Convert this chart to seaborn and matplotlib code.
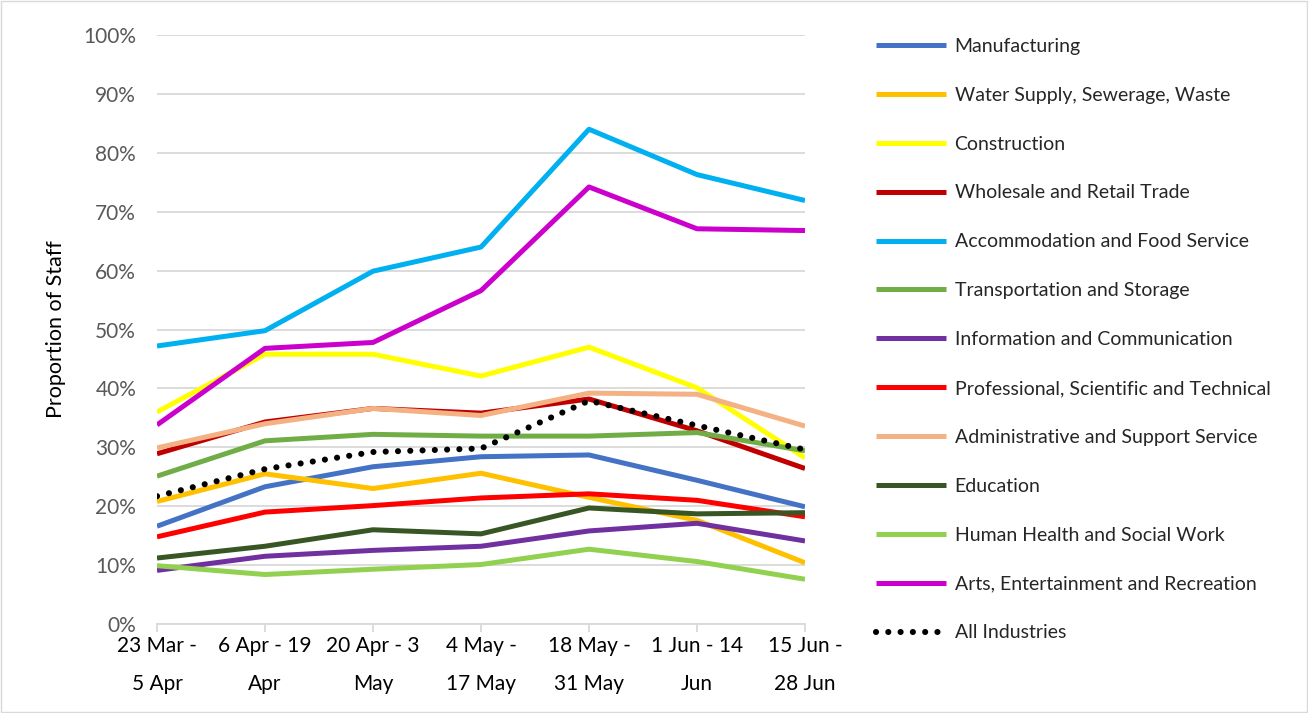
import matplotlib
matplotlib.use("Agg")
import matplotlib.pyplot as plt
import seaborn as sns
import pandas as pd
import numpy as np

periods = ["23 Mar -\n5 Apr", "6 Apr - 19\nApr", "20 Apr - 3\nMay", "4 May -\n17 May",
           "18 May -\n31 May", "1 Jun - 14\nJun", "15 Jun -\n28 Jun"]

manufacturing = [16.6, 23.3, 26.7, 28.4, 28.7, 24.4, 19.9]
water = [20.8, 25.5, 23.0, 25.6, 21.5, 17.6, 10.4]
construction = [36.0, 45.8, 45.8, 42.1, 47.0, 40.1, 28.2]
wholesale = [28.9, 34.3, 36.6, 35.8, 38.2, 32.8, 26.4]
accommodation = [47.2, 49.8, 59.9, 64.0, 84.0, 76.3, 71.9]
transport = [25.1, 31.1, 32.2, 31.9, 31.9, 32.5, 29.4]
information = [9.1, 11.5, 12.5, 13.2, 15.8, 17.1, 14.1]
professional = [14.8, 19.0, 20.1, 21.4, 22.1, 21.0, 18.2]
administrative = [29.9, 34.0, 36.6, 35.4, 39.2, 39.0, 33.6]
education = [11.2, 13.2, 16.0, 15.3, 19.7, 18.7, 18.9]
health = [9.9, 8.4, 9.3, 10.1, 12.7, 10.6, 7.6]
arts = [33.8, 46.8, 47.8, 56.6, 74.2, 67.1, 66.8]
all_industries = [21.7, 26.3, 29.2, 29.8, 37.9, 33.7, 29.6]

series_names = ["Manufacturing", "Water Supply, Sewerage, Waste", "Construction",
                "Wholesale and Retail Trade", "Accommodation and Food Service",
                "Transportation and Storage", "Information and Communication",
                "Professional, Scientific and Technical", "Administrative and Support Service",
                "Education", "Human Health and Social Work", "Arts, Entertainment and Recreation",
                "All Industries"]
series_values = [manufacturing, water, construction, wholesale, accommodation, transport,
                 information, professional, administrative, education, health, arts,
                 all_industries]
colors = ["#4472C4", "#FFC000", "#FFFF00", "#C00000", "#00B0F0", "#70AD47", "#7030A0",
          "#FF0000", "#F4B183", "#375623", "#92D050", "#CC00CC", "#000000"]

sns.set_theme(style="white")
plt.rcParams["font.family"] = ["Lato", "DejaVu Sans"]

fig = plt.figure(figsize=(13.08, 7.13), dpi=100)
ax = fig.add_axes([157/1308, 89/713, (805-157)/1308, (624-35)/713])

rows = []
for name, vals in zip(series_names, series_values):
    for i, v in enumerate(vals):
        rows.append({"series": name, "x": i, "value": v / 100.0})
df = pd.DataFrame(rows)

for name, col in zip(series_names, colors):
    sub = df[df["series"] == name]
    if name == "All Industries":
        sns.lineplot(data=sub, x="x", y="value", ax=ax, color=col, lw=4.4,
                     label=name, dashes=False)
        ln = ax.get_lines()[-1]
        ln.set_dashes([0.01, 2.0])
        ln.set_dash_capstyle("round")
    else:
        sns.lineplot(data=sub, x="x", y="value", ax=ax, color=col, lw=3.6,
                     label=name, solid_capstyle="butt")

ax.set_xlim(0, 6)
ax.set_ylim(0, 1.0)
ax.set_yticks(np.arange(0, 1.01, 0.1))
ax.set_yticklabels([f"{int(round(t*100))}%" for t in np.arange(0, 1.01, 0.1)],
                   color="#595959", fontsize=15)
ax.set_xticks(range(len(periods)))
ax.set_xticklabels(periods, fontsize=15, color="#000000", linespacing=2.1)
ax.grid(axis="y", color="#D9D9D9", lw=1.3)
ax.set_axisbelow(True)
for s in ["top", "right", "left"]:
    ax.spines[s].set_visible(False)
ax.spines["bottom"].set_color("#D9D9D9")
ax.spines["bottom"].set_linewidth(1.3)
ax.tick_params(axis="x", which="both", bottom=True, length=6, color="#D9D9D9", width=1.3, pad=3)
ax.tick_params(axis="y", length=0, pad=15)
ax.set_xlabel("")
ax.set_ylabel("Proportion of Staff", fontsize=15.5, color="#000000", labelpad=12)

handles, labels = ax.get_legend_handles_labels()
if ax.legend_:
    ax.legend_.remove()
leg = fig.legend(handles, labels, loc="upper left", bbox_to_anchor=(868/1308, 1 - 30/713),
                 frameon=False, fontsize=14, handlelength=3.6, handletextpad=0.45,
                 labelspacing=1.64, borderaxespad=0)

fig.patches.append(plt.Rectangle((0.001, 0.001), 0.998, 0.997, transform=fig.transFigure,
                                 fill=False, edgecolor="#D9D9D9", lw=1))
fig.savefig("out.png", dpi=100)
